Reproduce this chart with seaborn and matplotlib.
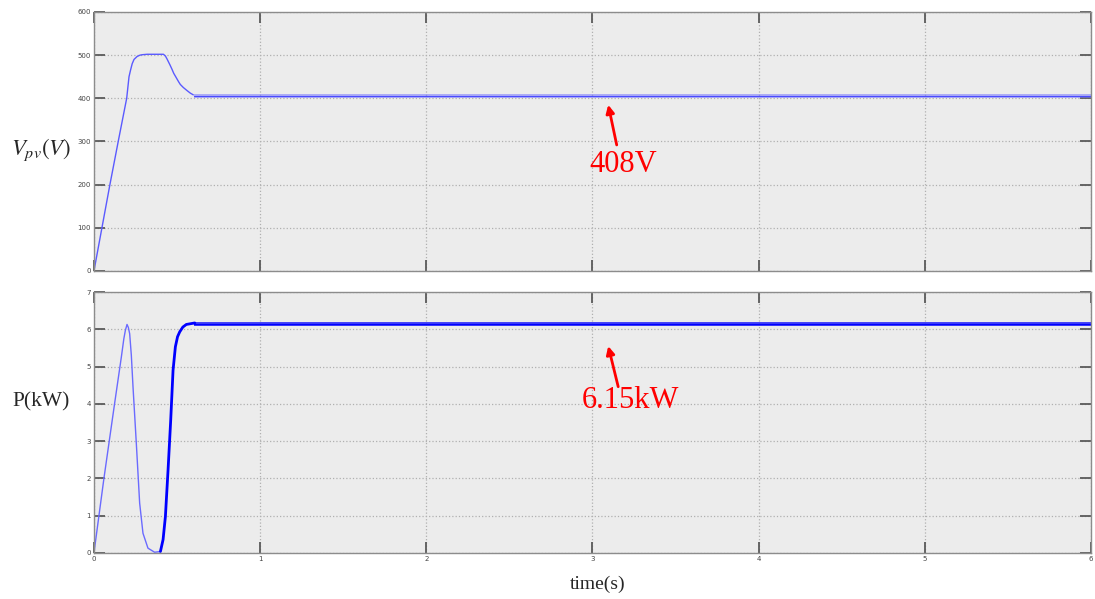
import numpy as np
import pandas as pd
import matplotlib
matplotlib.use("Agg")
import matplotlib.pyplot as plt
import seaborn as sns

# --- datos ---
# Vpv: transitorio
t_v = [0, 0.048, 0.096, 0.146, 0.197, 0.211, 0.22, 0.23, 0.241, 0.26, 0.277, 0.29, 0.32,
       0.418, 0.43, 0.44, 0.458, 0.47, 0.48, 0.498, 0.51, 0.52, 0.538, 0.56, 0.58, 0.598]
v_pv = [0, 100, 200, 300, 400, 450, 465, 480, 490, 497, 500, 501, 502,
        502, 498, 491, 477, 467, 458, 446, 438, 432, 425, 418, 412, 408]
# Vpv: regimen permanente (envolvente del rizado)
t_ss = [0.6, 6.0]
v_mean = [406, 406]
v_lo = [401, 401]
v_hi = [411, 411]

# Potencia: primer lobulo
t_p1 = [0, 0.060, 0.124, 0.165, 0.18, 0.189, 0.199, 0.207, 0.215, 0.225, 0.235, 0.255,
        0.275, 0.295, 0.325, 0.365, 0.40]
p1 = [0, 2.0, 4.0, 5.26, 5.75, 5.97, 6.13, 6.05, 5.88, 5.3, 4.46, 2.94,
      1.34, 0.53, 0.13, 0.02, 0.04]
# Potencia: subida final
t_p2 = [0.40, 0.416, 0.43, 0.446, 0.462, 0.476, 0.49, 0.503, 0.516, 0.535, 0.556, 0.607]
p2 = [0.04, 0.36, 0.98, 2.23, 3.57, 4.9, 5.53, 5.8, 5.93, 6.06, 6.13, 6.17]
# Potencia: regimen permanente
p_mean = [6.15, 6.15]
p_lo = [6.10, 6.10]
p_hi = [6.20, 6.20]

x_ticks = [0, 1, 2, 3, 4, 5, 6]
v_ticks = [0, 100, 200, 300, 400, 500, 600]
p_ticks = [0, 1, 2, 3, 4, 5, 6, 7]

sns.set_style("whitegrid", {"axes.facecolor": "#ececec", "grid.color": "#b0b0b0",
                            "grid.linestyle": ":", "axes.edgecolor": "#8c8c8c"})
plt.rcParams["mathtext.fontset"] = "stix"

fig = plt.figure(figsize=(10.95, 5.99), dpi=100)
ax1 = fig.add_axes([0.0858, 0.5476, 0.9105, 0.4324])
ax2 = fig.add_axes([0.0858, 0.0768, 0.9105, 0.4357])

blue = "#0000ff"

# --- Vpv ---
sns.lineplot(x=t_v, y=v_pv, ax=ax1, color="#5a5aff", lw=1.0, estimator=None, sort=False)
ax1.fill_between(t_ss, v_lo, v_hi, color="#7070ff", alpha=0.5, lw=0)
sns.lineplot(x=t_ss, y=v_mean, ax=ax1, color="#4a4aff", lw=0.8, estimator=None)

# --- Potencia ---
sns.lineplot(x=t_p1, y=p1, ax=ax2, color="#6a6aff", lw=1.0, estimator=None, sort=False)
sns.lineplot(x=t_p2, y=p2, ax=ax2, color=blue, lw=2.0, estimator=None, sort=False)
ax2.fill_between(t_ss, p_lo, p_hi, color=blue, alpha=0.7, lw=0)
sns.lineplot(x=t_ss, y=p_mean, ax=ax2, color=blue, lw=1.0, estimator=None)

for ax, yt in [(ax1, v_ticks), (ax2, p_ticks)]:
    ax.set_xlim(0, 6)
    ax.set_ylim(yt[0], yt[-1])
    ax.set_xticks(x_ticks)
    ax.set_yticks(yt)
    ax.grid(True, linestyle=":", color="#b0b0b0", lw=0.9)
    ax.tick_params(direction="in", length=8, width=1.3, color="#5a5a5a",
                   labelsize=5, labelcolor="#444444", pad=2,
                   top=True, right=True, bottom=True, left=True)
    for s in ax.spines.values():
        s.set_color("#8c8c8c")
        s.set_linewidth(1.0)

ax1.set_xticklabels([])
ax1.set_ylabel("")
ax2.set_ylabel("")

fig.text(0.0375, 0.750, r"$V_{pv}(V)$", fontsize=16.5, ha="center", va="center")
fig.text(0.0375, 0.329, "P(kW)", fontsize=15.5, family="Liberation Serif", ha="center", va="center")
fig.text(0.546, 0.025, "time(s)", fontsize=14, family="Liberation Serif", ha="center", va="center")

# --- anotaciones ---
arrow = dict(arrowstyle="-|>", color="red", lw=2, mutation_scale=12, shrinkA=0, shrinkB=0)
ax1.annotate("", xy=(3.095, 385), xytext=(3.146, 292), arrowprops=arrow)
ax1.text(3.187, 246, "408V", fontsize=22, color="red", family="Liberation Serif",
         ha="center", va="center")
ax2.annotate("", xy=(3.095, 5.55), xytext=(3.155, 4.46), arrowprops=arrow)
ax2.text(3.226, 4.08, "6.15kW", fontsize=22, color="red", family="Liberation Serif",
         ha="center", va="center")

fig.savefig("out.png", dpi=100, facecolor="white")
